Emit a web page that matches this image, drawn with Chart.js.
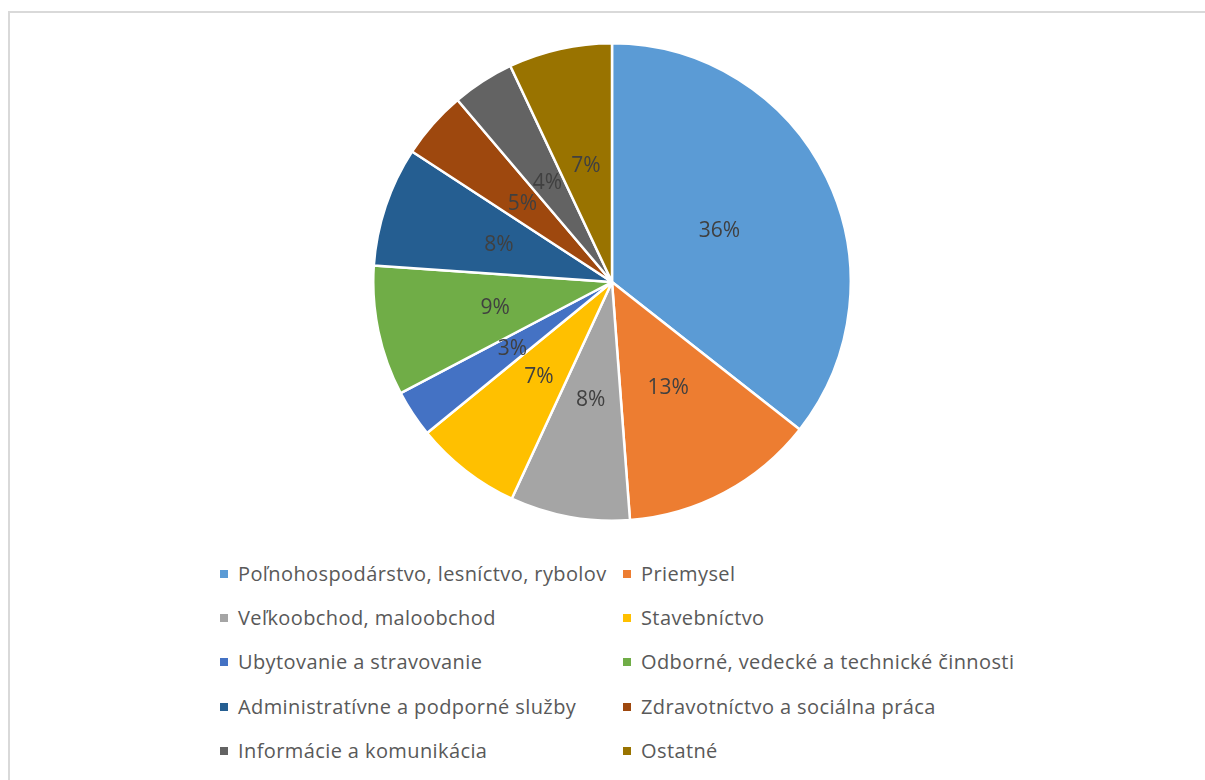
<!DOCTYPE html>
<html>
<head>
<meta charset="utf-8">
<script src="https://cdn.jsdelivr.net/npm/chart.js@4/dist/chart.umd.min.js"></script>
<style>
  html, body { margin: 0; padding: 0; background: #fff; width: 1205px; height: 780px; overflow: hidden; }
  #frame { position: absolute; left: 8px; top: 11px; width: 1300px; height: 900px; border-top: 2px solid #d9d9d9; border-left: 2px solid #d9d9d9; }
  #wrap { position: absolute; left: 372px; top: 42px; width: 480px; height: 480px; }
  #legend { position: absolute; left: 0; top: 0; font-family: "Open Sans", Lato, sans-serif; font-size: 20px; letter-spacing: 0.4px; color: #595959; }
  .item { position: absolute; white-space: nowrap; line-height: 22px; }
  .sw { position: absolute; width: 8px; height: 8px; top: 7px; left: -18px; }
</style>
</head>
<body>
<div id="frame"></div>
<div id="wrap"><canvas id="c" width="480" height="480"></canvas></div>
<div id="legend"></div>
<script>
const categories = [
  "Poľnohospodárstvo, lesníctvo, rybolov",
  "Priemysel",
  "Veľkoobchod, maloobchod",
  "Stavebníctvo",
  "Ubytovanie a stravovanie",
  "Odborné, vedecké a technické činnosti",
  "Administratívne a podporné služby",
  "Zdravotníctvo a sociálna práca",
  "Informácie a komunikácia",
  "Ostatné"
];
const shares = [35.6, 13.2, 8.1, 7.2, 3.2, 8.8, 8.1, 4.6, 4.2, 7.0];
const colors = ["#5B9BD5", "#ED7D31", "#A5A5A5", "#FFC000", "#4472C4", "#70AD47", "#255E91", "#9E480E", "#636363", "#997300"];

const labelPlugin = {
  id: 'pctLabels',
  afterDatasetsDraw(chart) {
    const ctx = chart.ctx;
    const meta = chart.getDatasetMeta(0);
    const data = chart.data.datasets[0].data;
    const total = data.reduce((a, b) => a + b, 0);
    ctx.save();
    ctx.font = '21px "Open Sans", Lato, sans-serif';
    ctx.fillStyle = '#404040';
    ctx.textAlign = 'center';
    ctx.textBaseline = 'middle';
    meta.data.forEach((arc, i) => {
      const p = arc.tooltipPosition();
      ctx.fillText(Math.round(data[i] / total * 100) + '%', p.x, p.y + 1);
    });
    ctx.restore();
  }
};

new Chart(document.getElementById('c'), {
  type: 'pie',
  data: {
    labels: categories,
    datasets: [{ data: shares, backgroundColor: colors, borderColor: '#ffffff', borderWidth: 2.5 }]
  },
  options: {
    responsive: false,
    animation: false,
    layout: { padding: 0 },
    plugins: { legend: { display: false }, tooltip: { enabled: false } }
  },
  plugins: [labelPlugin]
});

// legend: two columns, five rows
const legend = document.getElementById('legend');
const colX = [238, 641];
const rowY = [563, 607, 651, 696, 740];
categories.forEach((name, i) => {
  const d = document.createElement('div');
  d.className = 'item';
  d.style.left = colX[i % 2] + 'px';
  d.style.top = rowY[Math.floor(i / 2)] + 'px';
  const s = document.createElement('span');
  s.className = 'sw';
  s.style.background = colors[i];
  d.appendChild(s);
  d.appendChild(document.createTextNode(name));
  legend.appendChild(d);
});
</script>
</body>
</html>
